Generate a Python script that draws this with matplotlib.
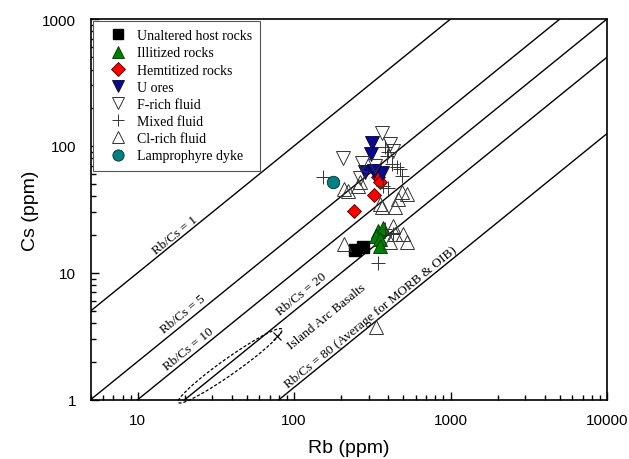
import numpy as np
import matplotlib
matplotlib.use("Agg")
import matplotlib.pyplot as plt
from matplotlib.ticker import LogLocator, NullFormatter, FixedLocator, FixedFormatter

# ---------------- data ----------------
unaltered_rb = [245, 276]
unaltered_cs = [15.1, 16.0]

illitized_rb = [344, 370, 334, 355, 355]
illitized_cs = [21.4, 22.5, 19.5, 18.5, 16.3]

hematized_rb = [242, 325, 334, 344, 355]
hematized_cs = [30.7, 41.0, 63.0, 57.0, 52.0]

uores_rb = [315, 311, 284, 366, 325]
uores_cs = [105, 86, 62, 61, 64]

frich_rb = [364, 205, 271, 411, 431, 264, 330]
frich_cs = [126, 81, 74, 103, 92, 55.5, 70]

mixed_rb = [154, 382, 392, 421, 476, 488, 399, 371, 399, 431, 382, 346, 453]
mixed_cs = [57, 97.5, 84, 72, 66, 58, 90, 48.5, 47, 20.2, 22, 11.9, 68]

clrich_rb = [207, 221, 257, 355, 442, 364, 464, 526, 431, 442, 411, 526, 500, 336, 488, 264, 207]
clrich_cs = [16.9, 44.4, 48.5, 34.8, 32.8, 32.8, 38.2, 41.8, 23.5, 20.2, 17.4, 17.4, 20.2, 3.72, 43.1, 51.6, 45.7]

lamp_rb = [178]
lamp_cs = [51.6]

ratios = [1, 5, 10, 20, 80]
ratio_labels = ["Rb/Cs = 1", "Rb/Cs = 5", "Rb/Cs = 10", "Rb/Cs = 20",
                "Rb/Cs = 80 (Average for MORB & OIB)"]
ratio_label_rb = [17.3, 19.6, 21.1, 112, 310]
ratio_label_cs = [19.9, 4.73, 2.51, 6.81, 4.48]

iab_label = "Island Arc Basalts"
iab_label_rb = 162
iab_label_cs = 4.59
iab_center_rb = 39.0
iab_center_cs = 1.85
iab_cross_rb = [77.4]
iab_cross_cs = [3.19]

xticks = [10, 100, 1000, 10000]
yticks = [1, 10, 100, 1000]

# ---------------- figure ----------------
fig = plt.figure(figsize=(6.29, 4.60), dpi=100)
ax = fig.add_axes([0.1440, 0.1289, 0.8210, 0.8276])
ax.set_xscale("log")
ax.set_yscale("log")
ax.set_xlim(5, 10000)
ax.set_ylim(1, 1000)

serif = ["Liberation Serif", "DejaVu Serif"]
sans = ["Liberation Sans", "DejaVu Sans"]

# ratio lines
xx = np.array([5, 10000.0])
for r in ratios:
    ax.plot(xx, xx / r, color="black", lw=1.0, zorder=1)

ang = np.degrees(np.arctan2(126.9, 156.4))
for lab, lx, ly in zip(ratio_labels, ratio_label_rb, ratio_label_cs):
    ax.text(lx, ly, lab, rotation=ang, ha="center", va="center",
            rotation_mode="anchor", fontsize=9.5, family=serif, zorder=2)
ax.text(iab_label_rb, iab_label_cs, iab_label, rotation=ang, ha="center",
        va="center", rotation_mode="anchor", fontsize=9.5, family=serif, zorder=2)

# Island arc basalt ellipse (drawn in display pixels around its centre)
fig.canvas.draw()
cx, cy = ax.transData.transform((iab_center_rb, iab_center_cs))
t = np.linspace(0, 2 * np.pi, 200)
a, b = 63.4, 8.0
th = np.radians(35.3)
px = cx + a * np.cos(t) * np.cos(th) - b * np.sin(t) * np.sin(th)
py = cy + a * np.cos(t) * np.sin(th) + b * np.sin(t) * np.cos(th)
ed = ax.transData.inverted().transform(np.column_stack([px, py]))
ax.plot(ed[:, 0], ed[:, 1], color="black", lw=0.9, ls=(0, (2.5, 1.5)),
        clip_on=False, zorder=2)
ax.plot(iab_cross_rb, iab_cross_cs, marker="x", ls="none", color="black",
        ms=6, mew=0.8, zorder=2)

# data series
ax.plot(unaltered_rb, unaltered_cs, "s", ms=8, mfc="black", mec="black",
        ls="none", label="Unaltered host rocks", zorder=3)
ax.plot(illitized_rb, illitized_cs, "^", ms=9.5, mfc="#008000", mec="#003000",
        mew=0.6, ls="none", label="Illitized rocks", zorder=3)
ax.plot(hematized_rb, hematized_cs, "D", ms=7.5, mfc="#ff0000", mec="#400000",
        mew=0.6, ls="none", label="Hemtitized rocks", zorder=3)
ax.plot(uores_rb, uores_cs, "v", ms=9.5, mfc="#0a0a8c", mec="#000030",
        mew=0.6, ls="none", label="U ores", zorder=3)
ax.plot(frich_rb, frich_cs, "v", ms=10, mfc="none", mec="#333333",
        mew=0.7, ls="none", label="F-rich fluid", zorder=3)
ax.plot(mixed_rb, mixed_cs, "+", ms=9.5, mec="#333333", mew=0.7,
        ls="none", label="Mixed fluid", zorder=3)
ax.plot(clrich_rb, clrich_cs, "^", ms=10, mfc="none", mec="#333333",
        mew=0.7, ls="none", label="Cl-rich fluid", zorder=3)
ax.plot(lamp_rb, lamp_cs, "o", ms=9, mfc="#008080", mec="#003030",
        mew=0.6, ls="none", label="Lamprophyre dyke", zorder=3)

leg = ax.legend(loc="upper left", bbox_to_anchor=(0.005, 0.995),
                borderaxespad=0.0,
                prop={"family": serif, "size": 10}, frameon=True,
                fancybox=False, edgecolor="#555555", framealpha=1,
                markerscale=0.9, labelspacing=0.3, handletextpad=0.15,
                borderpad=0.6, handlelength=2.4)
leg.get_frame().set_linewidth(0.8)

# ticks
ax.xaxis.set_major_locator(FixedLocator(xticks))
ax.xaxis.set_major_formatter(FixedFormatter([str(v) for v in xticks]))
ax.yaxis.set_major_locator(FixedLocator(yticks))
ax.yaxis.set_major_formatter(FixedFormatter([str(v) for v in yticks]))
ax.xaxis.set_minor_locator(LogLocator(base=10, subs=np.arange(2, 10), numticks=20))
ax.yaxis.set_minor_locator(LogLocator(base=10, subs=np.arange(2, 10), numticks=20))
ax.xaxis.set_minor_formatter(NullFormatter())
ax.yaxis.set_minor_formatter(NullFormatter())
ax.tick_params(which="both", direction="in", top=False, right=False,
               width=1.0, labelsize=11)
ax.tick_params(which="major", length=6)
ax.tick_params(which="minor", length=3.5)
ax.tick_params(axis="x", which="major", pad=9.5)
ax.tick_params(axis="y", which="major", pad=10.5)
for lab in ax.get_xticklabels() + ax.get_yticklabels():
    lab.set_family(sans)
for s in ax.spines.values():
    s.set_linewidth(1.2)

ax.set_xlabel("Rb (ppm)", family=sans, fontsize=14, labelpad=9)
ax.set_ylabel("Cs (ppm)", family=sans, fontsize=14, labelpad=2)

fig.savefig("out.png", dpi=100)
